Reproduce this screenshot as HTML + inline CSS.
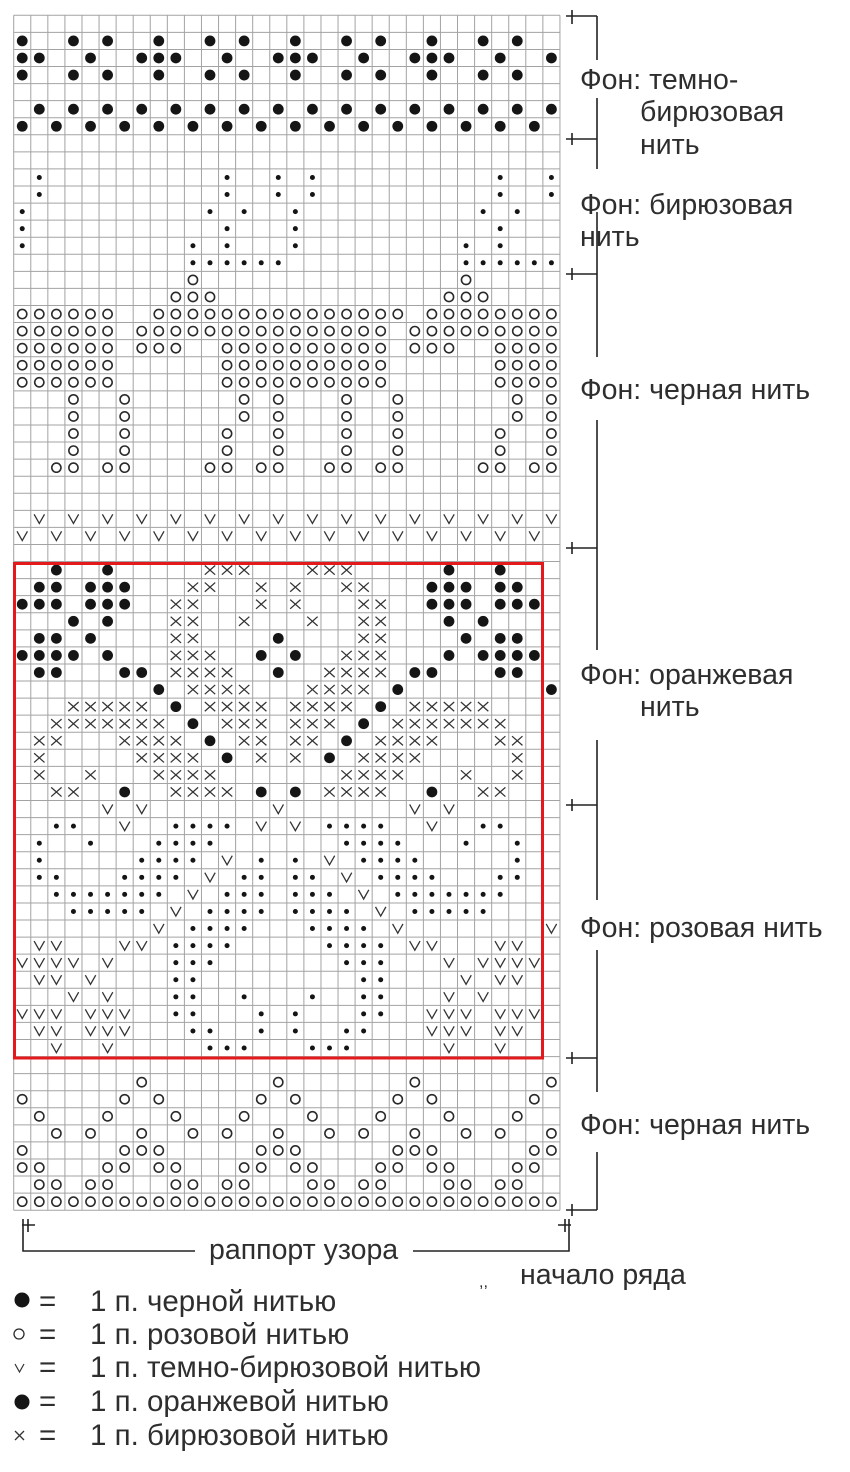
<!DOCTYPE html>
<html><head><meta charset="utf-8">
<style>
html,body{margin:0;padding:0;background:#fff;}
body{width:850px;height:1472px;overflow:hidden;position:relative;}
svg{position:absolute;left:0;top:0;}
text{font-family:"Liberation Sans","DejaVu Sans",sans-serif;font-size:28.5px;fill:#2e2e2e;}
text.lg{font-size:29.5px;}
</style></head><body>
<svg width="850" height="1472" viewBox="0 0 850 1472" xmlns="http://www.w3.org/2000/svg">
<defs>
<circle id="sB" r="5.4" fill="#151515"/>
<circle id="ss" r="2.5" fill="#151515"/>
<circle id="so" r="4.6" fill="none" stroke="#2a2a2a" stroke-width="1.6"/>
<path id="sv" d="M-5.2 -4.6 L0 4.6 L5.2 -4.6" fill="none" stroke="#333" stroke-width="1.3"/>
<path id="sx" d="M-5.2 -4.6 L5.2 4.6 M-5.2 4.6 L5.2 -4.6" fill="none" stroke="#333" stroke-width="1.25"/>
</defs>
<g id="grid" stroke="#a3a3a3" stroke-width="1" fill="none"></g>
<g id="sym"></g>
<rect x="14.5" y="563.5" width="528" height="494.5" fill="none" stroke="#e3191b" stroke-width="3"/>

<g stroke="#222" stroke-width="1.6" fill="none">
<path d="M597 16V60 M597 98V169 M597 212V357 M597 420V650 M597 740V900 M597 950V1092 M597 1152V1210"/>
<path d="M566 16H597 M566 139H597 M566 274H597 M566 548H597 M566 805H597 M566 1058H597 M566 1210H597"/>
<path d="M572 10V24 M572 133V145 M572 268V280 M572 542V554 M572 799V811 M572 1052V1064 M572 1204V1216"/>
<path d="M23 1219V1251H195 M413 1251H569V1219"/>
<path d="M22 1225H35 M28 1219V1232 M558 1225H571 M565 1219V1232"/>
</g>

<text x="580" y="89">Фон: темно-</text>
<text x="640" y="121">бирюзовая</text>
<text x="640" y="154">нить</text>
<text x="580" y="214">Фон: бирюзовая</text>
<text x="580" y="246">нить</text>
<text x="580" y="399">Фон: черная нить</text>
<text x="580" y="684">Фон: оранжевая</text>
<text x="640" y="716">нить</text>
<text x="580" y="937">Фон: розовая нить</text>
<text x="580" y="1134">Фон: черная нить</text>

<text x="209" y="1259">раппорт узора</text>
<text x="479" y="1287" style="font-size:16px">,,</text>
<text x="520" y="1284">начало ряда</text>

<circle cx="22" cy="1300" r="7.5" fill="#151515"/>
<circle cx="19" cy="1334" r="5" fill="none" stroke="#2a2a2a" stroke-width="1.3"/>
<path d="M15 1364 L19.5 1372 L24 1364" fill="none" stroke="#333" stroke-width="1.2"/>
<circle cx="22" cy="1402" r="7.5" fill="#151515"/>
<path d="M15 1431 L24 1440 M15 1440 L24 1431" fill="none" stroke="#333" stroke-width="1.3"/>
<text class="lg" x="39" y="1311">=</text>
<text class="lg" x="39" y="1344">=</text>
<text class="lg" x="39" y="1377">=</text>
<text class="lg" x="39" y="1411">=</text>
<text class="lg" x="39" y="1445">=</text>
<text class="lg" x="90" y="1311">1 п. черной нитью</text>
<text class="lg" x="90" y="1344">1 п. розовой нитью</text>
<text class="lg" x="90" y="1377">1 п. темно-бирюзовой нитью</text>
<text class="lg" x="90" y="1411">1 п. оранжевой нитью</text>
<text class="lg" x="90" y="1445">1 п. бирюзовой нитью</text>
</svg>
<script>
(function(){
var X0=13.7,Y0=15.3,C=17.07,NC=32,NR=70;
var d='';
for(var i=0;i<=NC;i++){var x=(X0+i*C).toFixed(2);d+='M'+x+' '+Y0+'V'+(Y0+NR*C).toFixed(2);}
for(var j=0;j<=NR;j++){var y=(Y0+j*C).toFixed(2);d+='M'+X0+' '+y+'H'+(X0+NC*C).toFixed(2);}
document.getElementById('grid').innerHTML='<path d="'+d+'"/>';
var r1="B:0,3,5,8,11,13,16,19,21,24,27,29";
var R=[
"",
r1,
"B:0,1,4,7,8,9,12,15,16,17,20,23,24,25,28,31",
r1,
"",
"B:1,3,5,7,9,11,13,15,17,19,21,23,25,27,29,31",
"B:0,2,4,6,8,10,12,14,16,18,20,22,24,26,28,30",
"",
"",
"s:1,12,15,17,28,31",
"s:1,12,15,17,28,31",
"s:0,11,13,16,27,29",
"s:0,12,16,28",
"s:0,10,12,16,26,28",
"s:10-15,26-31",
"o:10,26",
"o:9-11,25-27",
"o:0-5,8-22,24-31",
"o:0-5,7-21,23-31",
"o:0-5,7-9,12-21,23-25,28-31",
"o:0-5,12-21,28-31",
"o:0-5,12-21,28-31",
"o:3,6,13,15,19,22,29,31",
"o:3,6,13,15,19,22,29,31",
"o:3,6,12,15,19,22,28,31",
"o:3,6,12,15,19,22,28,31",
"o:2,3,5,6,11,12,14,15,18,19,21,22,27,28,30,31",
"",
"",
"v:1,3,5,7,9,11,13,15,17,19,21,23,25,27,29,31",
"v:0,2,4,6,8,10,12,14,16,18,20,22,24,26,28,30",
"",
"B:2,5,25,28;x:11-13,17-19",
"B:1,2,4-6,24-26,28,29;x:10,11,14,16,19,20",
"B:0-2,4-6,24-26,28-30;x:9,10,14,16,20,21",
"B:3,5,25,27;x:9,10,13,17,20,21",
"B:1,2,4,15,26,28,29;x:9,10,20,21",
"B:0-3,5,14,16,25,27-30;x:9-11,19-21",
"B:1,2,6,7,15,23,24,28,29;x:9-12,18-21",
"B:8,22,31;x:10-13,17-20",
"x:3-7,11-14,16-19,23-27;B:9,21",
"x:2-8,12-14,16-18,22-28;B:10,20",
"x:1,2,6-9,13,14,16,17,21-24,28,29;B:11,19",
"x:1,7-10,14,16,20-23,29;B:12,18",
"x:1,4,8-11,19-22,26,29",
"x:2,3,9-12,18-21,27,28;B:6,14,16,24",
"v:5,7,15,23,25",
"s:2,3,9-12,18-21,27,28;v:6,14,16,24",
"s:1,4,8-11,19-22,26,29",
"s:1,7-10,14,16,20-23,29;v:12,18",
"s:1,2,6-9,13,14,16,17,21-24,28,29;v:11,19",
"s:2-8,12-14,16-18,22-28;v:10,20",
"s:3-7,11-14,16-19,23-27;v:9,21",
"s:10-13,17-20;v:8,22,31",
"v:1,2,6,7,23,24,28,29;s:9-12,18-21",
"v:0-3,5,25,27-30;s:9-11,19-21",
"v:1,2,4,26,28,29;s:9,10,20,21",
"v:3,5,25,27;s:9,10,13,17,20,21",
"v:0-2,4-6,24-26,28-30;s:9,10,14,16,20,21",
"v:1,2,4-6,24-26,28,29;s:10,11,14,16,19,20",
"v:2,5,25,28;s:11-13,17-19",
"",
"o:7,15,23,31",
"o:0,6,8,14,16,22,24,30",
"o:1,5,9,13,17,21,25,29",
"o:2,4,7,10,12,15,18,20,23,26,28,31",
"o:0,6-8,14-16,22-24,30,31",
"o:0,1,5,6,8,9,13,14,16,17,21,22,24,25,29,30",
"o:1,2,4,5,9,10,12,13,17,18,20,21,25,26,28,29",
"o:0-31"
];
var out='';
for(var r=0;r<R.length;r++){
  var row=R[r]; if(!row) continue;
  var parts=row.split(';');
  for(var p=0;p<parts.length;p++){
    var kv=parts[p].split(':'), t=kv[0], toks=kv[1].split(',');
    for(var k=0;k<toks.length;k++){
      var tok=toks[k],a,b;
      if(tok.indexOf('-')>=0){var ab=tok.split('-');a=+ab[0];b=+ab[1];}else{a=b=+tok;}
      for(var c=a;c<=b;c++){
        out+='<use href="#s'+t+'" x="'+(X0+(c+.5)*C).toFixed(2)+'" y="'+(Y0+(r+.5)*C).toFixed(2)+'"/>';
      }
    }
  }
}
document.getElementById('sym').innerHTML=out;
})();
</script>
</body></html>
